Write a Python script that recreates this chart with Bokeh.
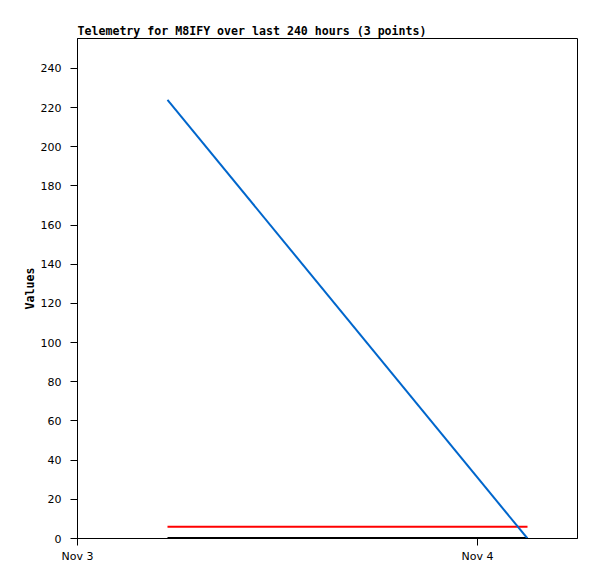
from datetime import datetime
from bokeh.plotting import figure
from bokeh.models import FixedTicker, Range1d
from bokeh.embed import file_html
from bokeh.resources import INLINE

# Data
times = ["2024-11-03 05:24", "2024-11-04 03:00"]
series_blue = [224, 0]
series_red = [6, 6]
series_black = [0, 0]
x_tick_labels = {0: "Nov 3", 24: "Nov 4"}
y_ticks = list(range(0, 241, 20))

origin = datetime(2024, 11, 3, 0, 0)
hours = [(datetime.strptime(t, "%Y-%m-%d %H:%M") - origin).total_seconds() / 3600 for t in times]

p = figure(width=589, height=571, output_backend="svg", toolbar_location=None,
           x_range=Range1d(0, 30), y_range=Range1d(0, 255.3),
           min_border_left=77, min_border_right=12, min_border_top=38, min_border_bottom=33,
           title="Telemetry for M8IFY over last 240 hours (3 points)")

p.title.text_font = "DejaVu Sans Mono"
p.title.text_font_style = "bold"
p.title.text_font_size = "11.6px"
p.title.text_color = "black"
p.title.offset = 0
p.title.standoff = 1

p.line(hours, series_black, line_color="black", line_width=3)
p.line(hours, series_red, line_color="#ff0000", line_width=2)
p.line(hours, series_blue, line_color="#0066cc", line_width=2)

p.xgrid.visible = False
p.ygrid.visible = False
p.outline_line_color = "black"
p.outline_line_width = 1
p.background_fill_color = "white"
p.border_fill_color = "white"

p.xaxis.ticker = FixedTicker(ticks=list(x_tick_labels.keys()))
p.xaxis.major_label_overrides = x_tick_labels
p.yaxis.ticker = FixedTicker(ticks=y_ticks)

for ax in (p.xaxis[0], p.yaxis[0]):
    ax.axis_line_color = "black"
    ax.major_tick_line_color = "black"
    ax.minor_tick_line_color = None
    ax.major_tick_in = 0
    ax.major_tick_out = 7
    ax.major_label_text_font = "DejaVu Sans"
    ax.major_label_text_font_size = "11px"
    ax.major_label_text_color = "black"

p.yaxis.axis_label = "Values"
p.yaxis.axis_label_text_font = "DejaVu Sans Mono"
p.yaxis.axis_label_text_font_style = "bold"
p.yaxis.axis_label_text_font_size = "11.6px"
p.yaxis.axis_label_text_color = "black"
p.yaxis.axis_label_standoff = 1
p.yaxis.major_label_standoff = 9
p.xaxis.major_label_standoff = 4

open("out.html", "w").write(file_html(p, INLINE))
